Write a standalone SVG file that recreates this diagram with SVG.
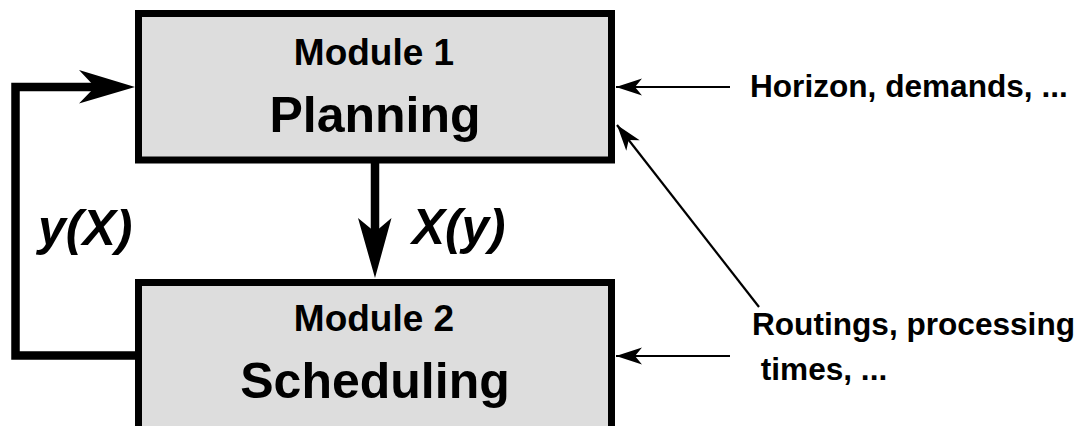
<svg xmlns="http://www.w3.org/2000/svg" width="1082" height="426" viewBox="0 0 1082 426">
<style>
.box{fill:#dddddd;stroke:#000;stroke-width:7}
.t{font-family:"Liberation Sans",Arial,sans-serif;font-weight:bold;fill:#000}
.thick{fill:none;stroke:#000;stroke-width:8.5}
.thin{fill:none;stroke:#000;stroke-width:2.2}
</style>
<defs>
<marker id="thinHead" markerUnits="userSpaceOnUse" markerWidth="30" markerHeight="20" viewBox="0 0 30 20" refX="28" refY="10" orient="auto">
<path d="M28,10 L2,1.5 L9,10 L2,18.5 Z" fill="#000"/>
</marker>
</defs>
<g id="planning">
<rect class="box" x="138.5" y="13.5" width="473" height="146.5"/>
<text class="t" x="374" y="65" font-size="37" text-anchor="middle">Module 1</text>
<text class="t" x="375" y="132" font-size="50" text-anchor="middle">Planning</text>
</g>
<g id="scheduling">
<rect class="box" x="138.5" y="282.5" width="473" height="160"/>
<text class="t" x="374" y="331" font-size="37" text-anchor="middle">Module 2</text>
<text class="t" x="375" y="398" font-size="50" text-anchor="middle">Scheduling</text>
</g>
<g id="labels">
<text class="t" x="750" y="97" font-size="31.6">Horizon, demands, ...</text>
<text class="t" x="752" y="335" font-size="31.6">Routings, processing</text>
<text class="t" x="752" y="380" font-size="31.6" xml:space="preserve"> times, ...</text>
</g>
<g id="connectors">
<path class="thick" d="M135,355.5 H15.5 V87 H95"/>
<path d="M135,87 L79,70 L95,87 L79,103.5 Z" fill="#000"/>
<path class="thick" d="M375,163 V235"/>
<path d="M375,278 L358,218 L375,232 L391.5,218 Z" fill="#000"/>
<text class="t" x="412" y="244" font-size="49.5" font-style="italic">X(y)</text>
<text class="t" x="38" y="245" font-size="50" font-style="italic">y(X)</text>
<path class="thin" d="M730,87 H616" marker-end="url(#thinHead)"/>
<path class="thin" d="M759,307 L617,125" marker-end="url(#thinHead)"/>
<path class="thin" d="M730,356 H616" marker-end="url(#thinHead)"/>
</g>
</svg>
